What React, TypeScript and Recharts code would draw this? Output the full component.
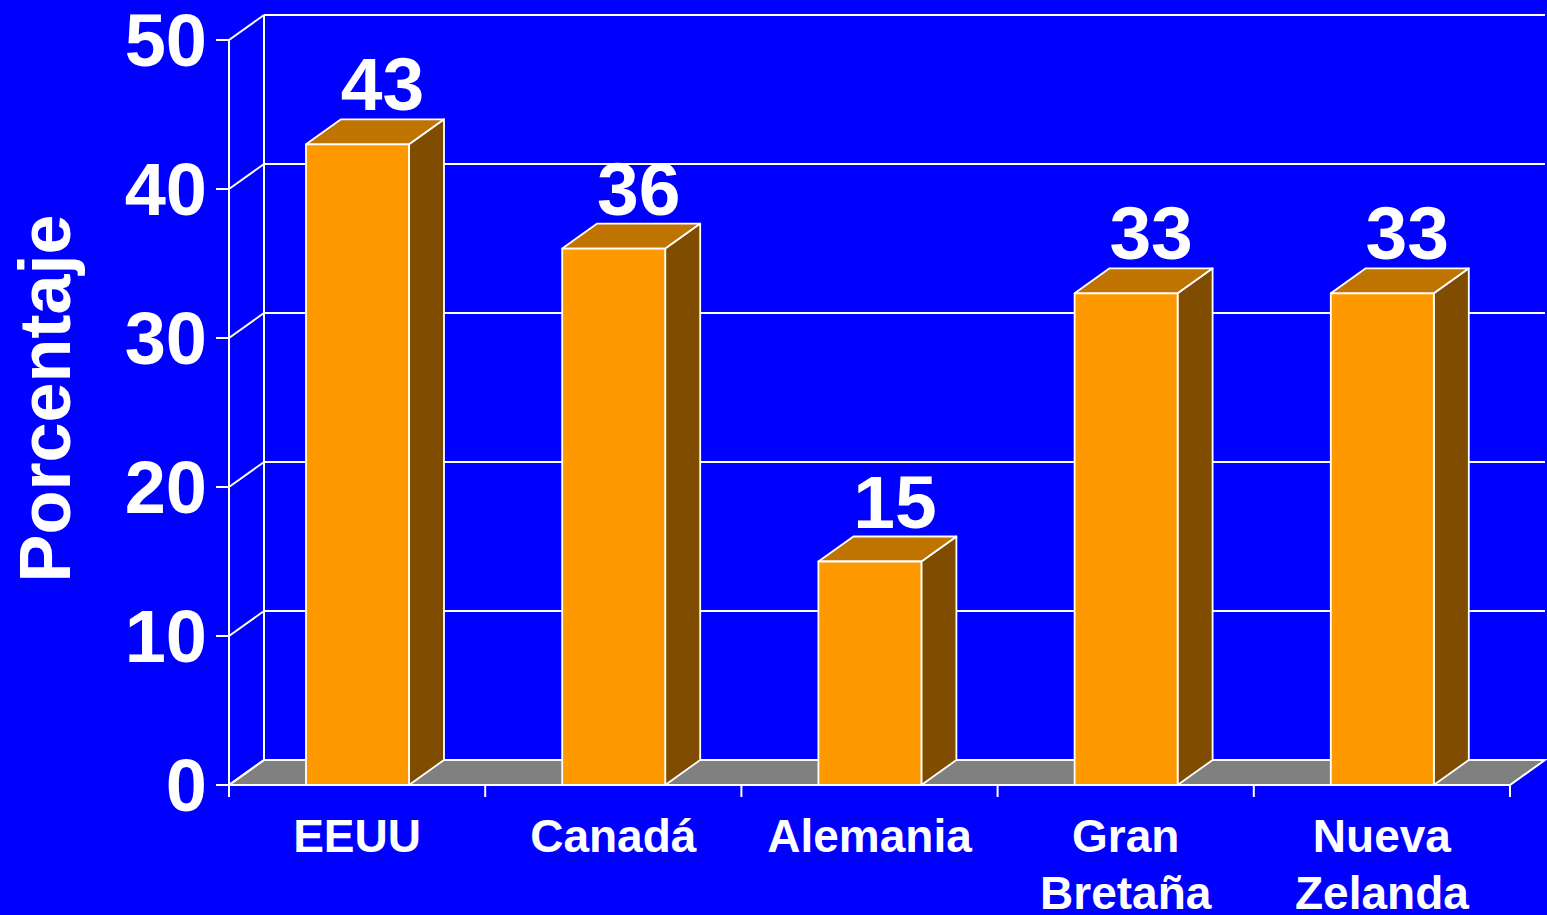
import React from 'react'
import {
  BarChart,
  Bar,
  XAxis,
  YAxis,
  CartesianGrid,
  LabelList,
} from 'recharts'

const countries = ['EEUU', 'Canadá', 'Alemania', 'Gran\nBretaña', 'Nueva\nZelanda']
const percentages = [43, 36, 15, 33, 33]
const yTicks = [0, 10, 20, 30, 40, 50]

const data = countries.map((name, i) => ({ name, value: percentages[i] }))

// 3D depth offset of the back wall
const DX = 35
const DY = -25
const FONT = '"Liberation Sans", Arial, sans-serif'
const WHITE = '#ffffff'

function GridLine(props: any) {
  const { x1, y1, x2, y2, y, height } = props
  const isBottom = Math.abs(y1 - (y + height)) < 1
  const isTop = Math.abs(y1 - y) < 1
  return (
    <g>
      {isBottom && (
        <polygon
          points={`${x1},${y1} ${x2},${y2} ${x2 + DX},${y2 + DY} ${x1 + DX},${y1 + DY}`}
          fill="#808080"
          stroke={WHITE}
          strokeWidth={2}
        />
      )}
      {isTop && (
        <line
          x1={x1 + DX}
          y1={y1 + DY}
          x2={x1 + DX}
          y2={y + height + DY}
          stroke={WHITE}
          strokeWidth={2}
        />
      )}
      <line x1={x1} y1={y1} x2={x1 + DX} y2={y1 + DY} stroke={WHITE} strokeWidth={2} />
      <line x1={x1 + DX} y1={y1 + DY} x2={x2 + DX} y2={y2 + DY} stroke={WHITE} strokeWidth={2} />
    </g>
  )
}

function Bar3D(props: any) {
  const { x, y, width, height } = props
  const b = y + height
  const r = x + width
  return (
    <g stroke={WHITE} strokeWidth={1.8} strokeLinejoin="round">
      <polygon
        points={`${r},${y} ${r + DX},${y + DY} ${r + DX},${b + DY} ${r},${b}`}
        fill="#7F4C00"
      />
      <polygon
        points={`${x},${y} ${x + DX},${y + DY} ${r + DX},${y + DY} ${r},${y}`}
        fill="#BF7300"
      />
      <rect x={x} y={y} width={width} height={height} fill="#FF9900" />
    </g>
  )
}

function XTick(props: any) {
  const { x, y, payload, index } = props
  const half = payload && payload.offset ? payload.offset : 128.1
  const lines = String(payload.value).split('\n')
  const top = y - 12
  return (
    <g>
      <line x1={x - half} y1={top} x2={x - half} y2={top + 12} stroke={WHITE} strokeWidth={2} />
      {index === countries.length - 1 && (
        <line x1={x + half} y1={top} x2={x + half} y2={top + 12} stroke={WHITE} strokeWidth={2} />
      )}
      <text
        x={x}
        y={top + 67}
        textAnchor="middle"
        fill={WHITE}
        fontFamily={FONT}
        fontWeight="bold"
        fontSize={46}
      >
        {lines.map((l, i) => (
          <tspan key={i} x={x} dy={i === 0 ? 0 : 57}>
            {l}
          </tspan>
        ))}
      </text>
    </g>
  )
}

function YTick(props: any) {
  const { x, y, payload } = props
  return (
    <text
      x={x - 7}
      y={y}
      dy={26}
      textAnchor="end"
      fill={WHITE}
      fontFamily={FONT}
      fontWeight="bold"
      fontSize={74}
    >
      {payload.value}
    </text>
  )
}

function YTitle(props: any) {
  const { viewBox } = props
  const cx = viewBox.x + 70
  const cy = viewBox.y + viewBox.height / 2 - 14
  return (
    <text
      x={cx}
      y={cy}
      transform={`rotate(-90, ${cx}, ${cy})`}
      textAnchor="middle"
      fill={WHITE}
      fontFamily={FONT}
      fontWeight="bold"
      fontSize={72}
    >
      Porcentaje
    </text>
  )
}

function ValueLabel(props: any) {
  const { x, y, width, value } = props
  return (
    <text
      x={x + width / 2 + 25}
      y={y - 34}
      textAnchor="middle"
      fill={WHITE}
      fontFamily={FONT}
      fontWeight="bold"
      fontSize={75}
    >
      {value}
    </text>
  )
}

export default function App() {
  return (
    <div
      style={{
        position: 'absolute',
        left: 0,
        top: 0,
        width: 1547,
        height: 915,
        background: '#0000FF',
        overflow: 'hidden',
      }}
    >
      <BarChart
        width={1547}
        height={915}
        data={data}
        margin={{ top: 40, right: 37, bottom: 5, left: 0 }}
        barSize={103}
      >
        <CartesianGrid vertical={false} horizontal={(p: any) => <GridLine {...p} />} />
        <XAxis
          dataKey="name"
          height={125}
          interval={0}
          axisLine={{ stroke: WHITE, strokeWidth: 2 }}
          tickLine={false}
          tickSize={12}
          tickMargin={0}
          tick={<XTick />}
        />
        <YAxis
          type="number"
          domain={[0, 50]}
          ticks={yTicks}
          width={229}
          axisLine={{ stroke: WHITE, strokeWidth: 2 }}
          tickLine={{ stroke: WHITE, strokeWidth: 2 }}
          tickSize={13}
          tickMargin={2}
          tick={<YTick />}
          label={{ content: (p: any) => <YTitle {...p} /> }}
        />
        <Bar dataKey="value" shape={(p: any) => <Bar3D {...p} />} isAnimationActive={false}>
          <LabelList dataKey="value" content={(p: any) => <ValueLabel {...p} />} />
        </Bar>
      </BarChart>
    </div>
  )
}
